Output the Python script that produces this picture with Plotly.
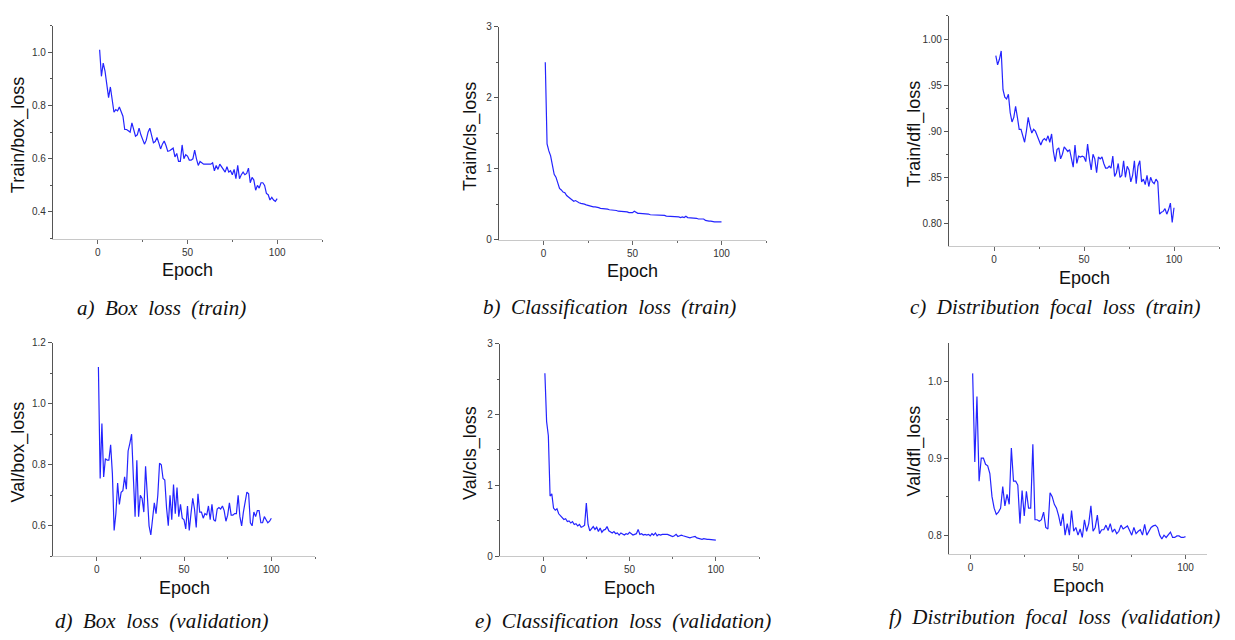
import plotly.graph_objects as go

epochs = list(range(1, 101))

train_box_loss = [
    1.01, 0.91, 0.96, 0.93, 0.88, 0.83, 0.87, 0.83, 0.775, 0.785,
    0.78, 0.795, 0.78, 0.76, 0.71, 0.71, 0.705, 0.70, 0.735, 0.71,
    0.685, 0.69, 0.715, 0.69, 0.67, 0.655, 0.67, 0.70, 0.715, 0.69,
    0.66, 0.665, 0.68, 0.66, 0.637, 0.655, 0.667, 0.65, 0.628, 0.63,
    0.635, 0.64, 0.607, 0.62, 0.59, 0.59, 0.652, 0.60, 0.615, 0.61,
    0.595, 0.595, 0.60, 0.633, 0.60, 0.575, 0.59, 0.585, 0.58, 0.58,
    0.58, 0.58, 0.58, 0.585, 0.555, 0.575, 0.56, 0.58, 0.57, 0.56,
    0.55, 0.57, 0.55, 0.555, 0.54, 0.56, 0.525, 0.575, 0.525, 0.54,
    0.55, 0.54, 0.545, 0.565, 0.51, 0.53, 0.52, 0.482, 0.50, 0.49,
    0.51, 0.51, 0.50, 0.47, 0.465, 0.445, 0.455, 0.445, 0.44, 0.45,
]

train_cls_loss = [
    2.50, 1.35, 1.25, 1.18, 1.05, 0.92, 0.88, 0.80, 0.72, 0.70,
    0.67, 0.66, 0.62, 0.60, 0.58, 0.56, 0.54, 0.55, 0.53, 0.52,
    0.51, 0.51, 0.50, 0.49, 0.48, 0.47, 0.47, 0.46, 0.46, 0.46,
    0.45, 0.44, 0.44, 0.44, 0.43, 0.43, 0.42, 0.42, 0.41, 0.42,
    0.41, 0.40, 0.40, 0.39, 0.40, 0.39, 0.39, 0.38, 0.38, 0.38,
    0.40, 0.38, 0.37, 0.37, 0.37, 0.36, 0.36, 0.36, 0.36, 0.35,
    0.35, 0.35, 0.35, 0.34, 0.34, 0.35, 0.34, 0.34, 0.33, 0.33,
    0.33, 0.32, 0.32, 0.32, 0.32, 0.32, 0.31, 0.32, 0.31, 0.33,
    0.31, 0.31, 0.30, 0.31, 0.30, 0.30, 0.29, 0.29, 0.29, 0.29,
    0.27, 0.26, 0.26, 0.26, 0.25, 0.25, 0.25, 0.25, 0.25, 0.25,
]

train_dfl_loss = [
    0.982, 0.972, 0.978, 0.987, 0.945, 0.937, 0.935, 0.940, 0.920, 0.910,
    0.915, 0.927, 0.915, 0.902, 0.902, 0.895, 0.888, 0.900, 0.915, 0.905,
    0.898, 0.902, 0.900, 0.895, 0.890, 0.885, 0.890, 0.892, 0.890, 0.895,
    0.888, 0.897, 0.878, 0.867, 0.880, 0.882, 0.870, 0.875, 0.883, 0.880,
    0.878, 0.880, 0.868, 0.861, 0.885, 0.865, 0.873, 0.872, 0.873, 0.872,
    0.867, 0.886, 0.870, 0.858, 0.875, 0.870, 0.855, 0.872, 0.870, 0.872,
    0.865, 0.860, 0.860, 0.862, 0.860, 0.873, 0.851, 0.855, 0.865, 0.850,
    0.852, 0.868, 0.850, 0.862, 0.858, 0.845, 0.852, 0.868, 0.843, 0.862,
    0.868, 0.845, 0.848, 0.842, 0.852, 0.840, 0.850, 0.845, 0.843, 0.848,
    0.845, 0.810, 0.812, 0.813, 0.816, 0.810, 0.815, 0.822, 0.801, 0.817,
]

val_box_loss = [
    1.12, 0.755, 0.935, 0.76, 0.82, 0.815, 0.815, 0.865, 0.77, 0.585,
    0.64, 0.74, 0.67, 0.71, 0.715, 0.76, 0.72, 0.845, 0.87, 0.90,
    0.76, 0.63, 0.815, 0.63, 0.70, 0.69, 0.645, 0.795, 0.70, 0.60,
    0.57, 0.62, 0.675, 0.64, 0.70, 0.805, 0.80, 0.755, 0.75, 0.66,
    0.60, 0.70, 0.62, 0.735, 0.64, 0.725, 0.63, 0.67, 0.625, 0.62,
    0.59, 0.665, 0.585, 0.64, 0.69, 0.655, 0.595, 0.705, 0.645, 0.645,
    0.625, 0.64, 0.635, 0.665, 0.62, 0.67, 0.62, 0.615, 0.655, 0.66,
    0.655, 0.665, 0.65, 0.615, 0.635, 0.675, 0.635, 0.635, 0.64, 0.64,
    0.70, 0.63, 0.60, 0.645, 0.68, 0.71, 0.705, 0.61, 0.60, 0.645,
    0.63, 0.65, 0.65, 0.61, 0.61, 0.63, 0.62, 0.61, 0.615, 0.625,
]

val_cls_loss = [
    2.58, 1.90, 1.70, 0.85, 0.88, 0.68, 0.65, 0.67, 0.60, 0.57,
    0.55, 0.52, 0.53, 0.49, 0.50, 0.47, 0.49, 0.45, 0.46, 0.43,
    0.45, 0.41, 0.42, 0.44, 0.75, 0.45, 0.36, 0.40, 0.42, 0.38,
    0.41, 0.35, 0.40, 0.34, 0.37, 0.38, 0.42, 0.36, 0.34, 0.33,
    0.35, 0.32, 0.33, 0.30, 0.33, 0.31, 0.30, 0.32, 0.31, 0.34,
    0.32, 0.30, 0.31, 0.32, 0.38, 0.31, 0.32, 0.30, 0.31, 0.30,
    0.31, 0.29, 0.32, 0.30, 0.33, 0.29, 0.31, 0.30, 0.31, 0.31,
    0.32, 0.31, 0.30, 0.29, 0.28, 0.29, 0.31, 0.28, 0.29, 0.30,
    0.29, 0.28, 0.27, 0.27, 0.26, 0.27, 0.28, 0.28, 0.26, 0.25,
    0.25, 0.24, 0.25, 0.24, 0.24, 0.24, 0.24, 0.24, 0.23, 0.23,
]

val_dfl_loss = [
    1.010, 0.895, 0.980, 0.870, 0.900, 0.900, 0.892, 0.890, 0.880, 0.850,
    0.835, 0.827, 0.830, 0.835, 0.863, 0.838, 0.853, 0.840, 0.913, 0.870,
    0.870, 0.865, 0.815, 0.858, 0.825, 0.857, 0.835, 0.835, 0.918, 0.820,
    0.820, 0.818, 0.820, 0.830, 0.810, 0.808, 0.855, 0.850, 0.840, 0.835,
    0.825, 0.812, 0.828, 0.800, 0.815, 0.800, 0.832, 0.805, 0.810, 0.800,
    0.808, 0.797, 0.820, 0.805, 0.815, 0.838, 0.805, 0.810, 0.826, 0.802,
    0.807, 0.807, 0.813, 0.806, 0.815, 0.804, 0.808, 0.802, 0.805, 0.813,
    0.808, 0.810, 0.812, 0.806, 0.800, 0.810, 0.802, 0.805, 0.807, 0.800,
    0.814, 0.800, 0.805, 0.810, 0.812, 0.813, 0.810, 0.800, 0.795, 0.800,
    0.797, 0.800, 0.804, 0.797, 0.797, 0.799, 0.799, 0.797, 0.797, 0.798,
]

y_titles = ["Train/box_loss", "Train/cls_loss", "Train/dfl_loss",
            "Val/box_loss", "Val/cls_loss", "Val/dfl_loss"]
captions = ["a)  Box  loss  (train)", "b)  Classification  loss  (train)",
            "c)  Distribution  focal  loss  (train)", "d)  Box  loss  (validation)",
            "e)  Classification  loss  (validation)", "f)  Distribution  focal  loss  (validation)"]
series = [train_box_loss, train_cls_loss, train_dfl_loss,
          val_box_loss, val_cls_loss, val_dfl_loss]

# page body has an 8px default margin; work in reference-pixel coordinates
OFF = 8
W, H = 1235 - 2 * OFF, 640 - 2 * OFF


def px(xp):
    return (xp - OFF) / W


def py(yp):
    return 1 - (yp - OFF) / H


# panel pixel boxes: (left, right, top, bottom)
boxes = [
    (53, 322, 20, 237),
    (499, 766, 21, 238),
    (949, 1219, 10, 245),
    (53, 315, 343, 561),
    (500, 759, 344, 561),
    (949, 1207, 343, 559),
]
x_ranges = [[-25, 125]] * 5 + [[-10, 110]]
y_ranges = [[0.3, 1.1], [0, 3], [0.775, 1.025], [0.5, 1.2], [0, 3], [0.775, 1.05]]
y_major = [
    dict(tickvals=[0.4, 0.6, 0.8, 1.0], ticktext=["0.4", "0.6", "0.8", "1.0"]),
    dict(tickvals=[0, 1, 2, 3], ticktext=["0", "1", "2", "3"]),
    dict(tickvals=[0.80, 0.85, 0.90, 0.95, 1.00], ticktext=["0.80", ".85", ".90", ".95", "1.00"]),
    dict(tickvals=[0.6, 0.8, 1.0, 1.2], ticktext=["0.6", "0.8", "1.0", "1.2"]),
    dict(tickvals=[0, 1, 2, 3], ticktext=["0", "1", "2", "3"]),
    dict(tickvals=[0.8, 0.9, 1.0], ticktext=["0.8", "0.9", "1.0"]),
]
y_minor = [
    [0.3, 0.5, 0.7, 0.9, 1.1],
    [0.5, 1.5, 2.5],
    [0.825, 0.875, 0.925, 0.975, 1.025],
    [0.5, 0.7, 0.9, 1.1],
    [0.5, 1.5, 2.5],
    [0.85, 0.95],
]
caption_pos = [(161, 308), (609, 307), (1055, 307), (161, 627), (623, 627), (1054, 623)]

fig = go.Figure()
annotations = []
tick_font = dict(family="Liberation Sans, Arial, sans-serif", size=10, color="#333333")
title_font = dict(family="Liberation Sans, Arial, sans-serif", size=18, color="#111111")
cap_font = dict(family="Liberation Serif, Times New Roman, serif", size=21, color="#111111")

for i in range(6):
    l, r, t, b = boxes[i]
    xa = "x" if i == 0 else f"x{i+1}"
    ya = "y" if i == 0 else f"y{i+1}"
    xkey = "xaxis" if i == 0 else f"xaxis{i+1}"
    ykey = "yaxis" if i == 0 else f"yaxis{i+1}"
    fig.add_trace(go.Scatter(x=epochs, y=series[i], mode="lines",
                             line=dict(color="#2424ff", width=1.2),
                             xaxis=xa, yaxis=ya, showlegend=False))
    fig.update_layout(**{
        xkey: dict(domain=[px(l), px(r)], anchor=ya, range=x_ranges[i],
                   tickvals=[0, 50, 100], ticktext=["0", "50", "100"],
                   ticks="outside", ticklen=4, tickcolor="#666666", tickwidth=1,
                   minor=dict(tickvals=[25, 75, 125] if i < 5 else [25, 75],
                              ticks="outside", ticklen=2, tickcolor="#666666"),
                   showline=True, linecolor="#c8c8c8", linewidth=1,
                   showgrid=False, zeroline=False, tickfont=tick_font, fixedrange=True),
        ykey: dict(domain=[py(b), py(t)], anchor=xa, range=y_ranges[i],
                   tickvals=y_major[i]["tickvals"], ticktext=y_major[i]["ticktext"],
                   ticks="outside", ticklen=4, tickcolor="#555555", tickwidth=1,
                   minor=dict(tickvals=y_minor[i], ticks="outside", ticklen=2,
                              tickcolor="#555555"),
                   showline=True, linecolor="#555555", linewidth=1.3,
                   showgrid=False, zeroline=False, tickfont=tick_font, fixedrange=True),
    })
    # y-axis title
    offs = [35, 29, 35, 35, 29, 35][i]
    annotations.append(dict(text=y_titles[i], x=px(l - offs), y=py((t + b) / 2 + 3),
                            xref="paper", yref="paper", textangle=-90, showarrow=False,
                            font=title_font, xanchor="center", yanchor="middle"))
    # x-axis title
    annotations.append(dict(text="Epoch", x=px((l + r) / 2), y=py(b + 32),
                            xref="paper", yref="paper", showarrow=False,
                            font=title_font, xanchor="center", yanchor="middle"))
    cx, cy = caption_pos[i]
    annotations.append(dict(text="<i>" + captions[i].replace("  ", "\u00a0 ") + "</i>",
                            x=px(cx), y=py(cy), xref="paper", yref="paper",
                            showarrow=False, font=cap_font,
                            xanchor="center", yanchor="middle"))

fig.update_layout(width=W, height=H, margin=dict(l=0, r=0, t=0, b=0),
                  paper_bgcolor="white", plot_bgcolor="white",
                  annotations=annotations, showlegend=False)

fig.write_html("out.html")
